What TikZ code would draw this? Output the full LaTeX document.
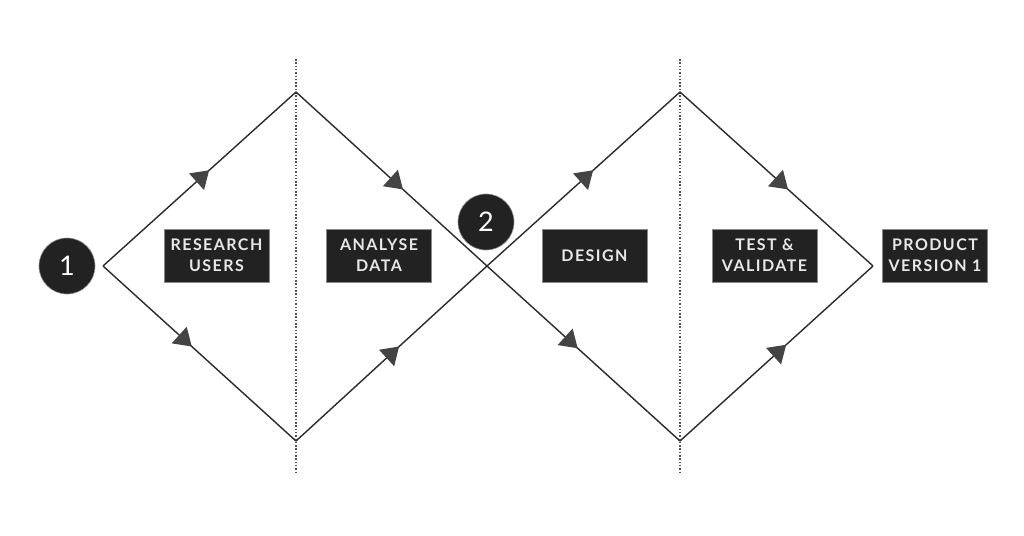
\documentclass[tikz,border=0pt]{standalone}
\usepackage{fontspec}
\setmainfont{Lato}
\newfontfamily\boxfont[LetterSpace=9]{Lato}
\usetikzlibrary{decorations.markings,arrows.meta}
\definecolor{ink}{HTML}{2B2B2B}
\definecolor{tipc}{HTML}{444444}
\definecolor{boxc}{HTML}{222222}
\definecolor{boxedge}{HTML}{8A8A8A}
\definecolor{boxtext}{HTML}{E8E8E8}
\definecolor{dotc}{HTML}{555555}
\begin{document}
\begin{tikzpicture}[x=1pt,y=-1pt,
  edge/.style={draw=ink,line width=1.4pt},
  arrowat/.style={postaction={decorate},decoration={markings,
     mark=at position #1 with {\arrow{Triangle[length=17pt,width=22pt,color=tipc]}}}},
  divider/.style={draw=dotc,line width=1.5pt,dash pattern=on 1.5pt off 1.8pt},
  stagebox/.style={rectangle,fill=boxc,draw=boxedge,line width=0.7pt,
     minimum width=105pt,minimum height=53pt,inner sep=0pt,align=center,
     text=boxtext,font=\boxfont\bfseries\fontsize{16}{21}\selectfont},
  numc/.style={circle,fill=boxc,draw=boxedge,line width=0.6pt,minimum size=56pt,
     inner sep=0pt,text=white,font=\fontsize{27}{27}\selectfont}]
\useasboundingbox[fill=white] (0,0) rectangle (1024,535);
% vertices
\coordinate (L1) at (103,266);
\coordinate (T1) at (296,92);
\coordinate (B1) at (296,441);
\coordinate (X)  at (487,266);
\coordinate (T2) at (680,92);
\coordinate (B2) at (680,441);
\coordinate (R2) at (873,266);
\coordinate (d1t) at (296,59);
\coordinate (d1b) at (296,473);
\coordinate (d2t) at (680,59);
\coordinate (d2b) at (680,473);
% dotted dividers
\draw[divider] (d1t) -- (d1b);
\draw[divider] (d2t) -- (d2b);
% diamonds
\draw[edge,arrowat=0.55] (L1) -- (T1);
\draw[edge,arrowat=0.56] (T1) -- (X);
\draw[edge,arrowat=0.46] (L1) -- (B1);
\draw[edge,arrowat=0.54] (B1) -- (X);
\draw[edge,arrowat=0.55] (X) -- (T2);
\draw[edge,arrowat=0.56] (T2) -- (R2);
\draw[edge,arrowat=0.47] (X) -- (B2);
\draw[edge,arrowat=0.55] (B2) -- (R2);
% boxes
\node[stagebox] (research) at (216.5,255.5) {RESEARCH\\USERS};
\node[stagebox] (analyse) at (379,255.5) {ANALYSE\\DATA};
\node[stagebox] (design) at (594.5,255.5) {DESIGN};
\node[stagebox] (test) at (764.5,255.5) {TEST \&\\VALIDATE};
\node[stagebox] (product) at (935,255.5) {PRODUCT\\VERSION 1};
% numbers
\node[numc] (n1) at (67,266) {1};
\node[numc] (n2) at (486,222) {2};
\end{tikzpicture}
\end{document}
